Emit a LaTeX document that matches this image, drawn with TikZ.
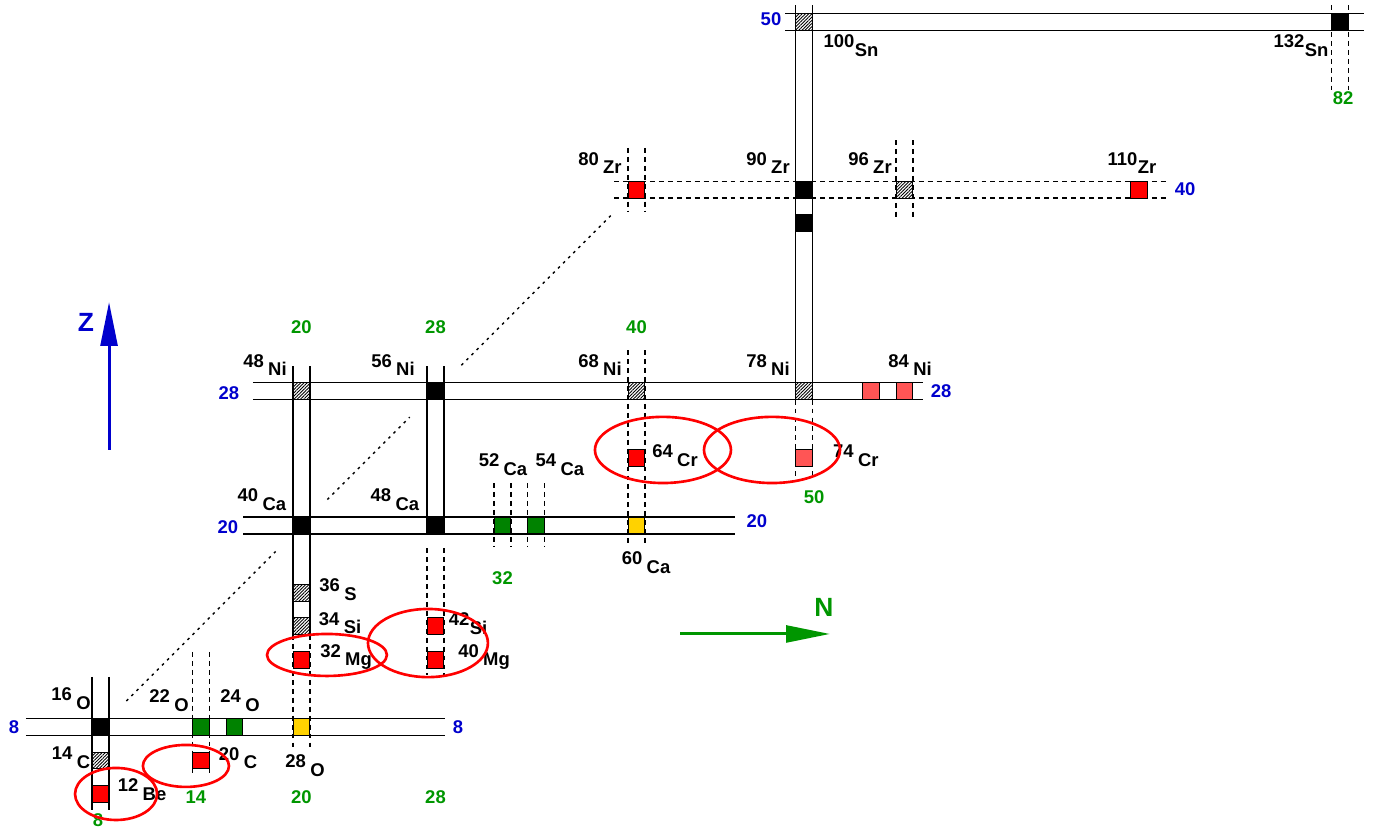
\documentclass[tikz,border=0pt]{standalone}
\usepackage{fontspec}
\setmainfont{Liberation Sans}
\usepackage{tikz}
\usetikzlibrary{arrows.meta, patterns.meta}

\definecolor{zblue}{RGB}{0,0,205}
\definecolor{ngreen}{RGB}{0,150,0}
\definecolor{boxgreen}{RGB}{0,130,0}
\definecolor{boxgold}{RGB}{255,210,0}
\definecolor{palered}{RGB}{255,85,85}

\newcommand{\iso}[2]{#1\hspace{2.5pt}\raisebox{-5pt}{#2}}
\newcommand{\isot}[2]{#1\hspace{0.3pt}\raisebox{-5pt}{#2}}

\begin{document}
\begin{tikzpicture}[
	x=0.335cm, y=0.3358cm,
	font=\bfseries\fontsize{10.5}{12}\selectfont,
	nucl/.style={
		rectangle,
		draw=black,
		line width=0.6pt,
		minimum width=0.335cm,
		minimum height=0.3358cm,
		inner sep=0pt
	},
	dmagic/.style={nucl, fill=black},
	hatch/.style={
		nucl,
		preaction={fill=white},
		pattern={Lines[angle=45,distance=1.3pt,line width=0.5pt]}
	},
	redbox/.style={nucl, fill=red},
	paleredbox/.style={nucl, fill=palered},
	greenbox/.style={nucl, fill=boxgreen},
	goldbox/.style={nucl, fill=boxgold},
	lab/.style={inner sep=0pt},
	zmag/.style={inner sep=0pt, text=zblue},
	nmag/.style={inner sep=0pt, text=ngreen},
	chan/.style={line width=0.8pt},
	dchan/.style={chan, dash pattern=on 2.8pt off 2.3pt},
	diag/.style={
		line width=0.8pt,
		dash pattern=on 1.5pt off 2.6pt,
		shorten <=0.48cm,
		shorten >=0.48cm
	},
	shell/.style={draw=red, line width=1.5pt},
	axis/.style={
		line width=1.7pt,
		-{Triangle[length=25pt,width=9.6pt]}
	}
	]
	\useasboundingbox (2,1.93) rectangle (84.03,51.30);
	
	\foreach \z/\a/\b in {8/3.55/28.57, 20/16.51/45.88, 28/17.10/57.10, 50/48.87/83.43}
	\draw[chan] (\a,\z-0.5) -- (\b,\z-0.5) (\a,\z+0.5) -- (\b,\z+0.5);
	\draw[dchan] (38.66,39.5) -- (71.61,39.5) (38.66,40.5) -- (71.61,40.5);
	
	\foreach \n/\a/\b in {8/10.98/3.06, 20/29.5/13.48, 28/29.5/19.5, 50/51.0/27.5}
	\draw[chan] (\n-0.5,\a) -- (\n-0.5,\b) (\n+0.5,\a) -- (\n+0.5,\b);
	\foreach \n/\a/\b in {14/12.47/5.26, 20/13.48/6.63, 28/18.66/11.10, 32/22.53/18.72,
		34/22.53/18.72, 40/30.45/18.72, 40/42.49/38.67, 50/27.5/22.71, 56/42.96/38.20, 82/51.0/45.94}
	\draw[dchan] (\n-0.5,\a) -- (\n-0.5,\b) (\n+0.5,\a) -- (\n+0.5,\b);
	
	\node[dmagic] (o16) at (8,8) {};
	\node[hatch] (c14) at (8,6) {};
	\node[redbox] (be12) at (8,4) {};
	\node[greenbox] (o22) at (14,8) {};
	\node[greenbox] (o24) at (16,8) {};
	\node[goldbox] (o28) at (20,8) {};
	\node[redbox] (c20) at (14,6) {};
	\node[redbox] (mg32) at (20,12) {};
	\node[hatch] (si34) at (20,14) {};
	\node[hatch] (s36) at (20,16) {};
	\node[redbox] (si42) at (28,14) {};
	\node[redbox] (mg40) at (28,12) {};
	\node[dmagic] (ca40) at (20,20) {};
	\node[dmagic] (ca48) at (28,20) {};
	\node[greenbox] (ca52) at (32,20) {};
	\node[greenbox] (ca54) at (34,20) {};
	\node[goldbox] (ca60) at (40,20) {};
	\node[redbox] (cr64) at (40,24) {};
	\node[paleredbox] (cr74) at (50,24) {};
	\node[hatch] (ni48) at (20,28) {};
	\node[dmagic] (ni56) at (28,28) {};
	\node[hatch] (ni68) at (40,28) {};
	\node[hatch] (ni78) at (50,28) {};
	\node[paleredbox] (ni82) at (54,28) {};
	\node[paleredbox] (ni84) at (56,28) {};
	\node[redbox] (zr80) at (40,40) {};
	\node[dmagic] (zr90) at (50,40) {};
	\node[dmagic] (sr88) at (50,38) {};
	\node[hatch] (zr96) at (56,40) {};
	\node[redbox] (zr110) at (70,40) {};
	\node[hatch] (sn100) at (50,50) {};
	\node[dmagic] (sn132) at (82,50) {};
	
	\draw[diag] (o16) -- (ca40);
	\draw[diag] (ca40) -- (ni56);
	\draw[diag] (ni56) -- (zr80);
	
	\node[lab] (lo16) at (6.24,9.67) {\iso{16}{O}};
	\node[lab] (lc14) at (6.24,6.15) {\iso{14}{C}};
	\node[lab] (lbe12) at (10.48,4.25) {\iso{12}{Be}};
	\node[lab] (lo22) at (12.09,9.55) {\iso{22}{O}};
	\node[lab] (lo24) at (16.33,9.55) {\iso{24}{O}};
	\node[lab] (lc20) at (16.21,6.15) {\iso{20}{C}};
	\node[lab] (lo28) at (20.21,5.68) {\iso{28}{O}};
	\node[lab] (lmg32) at (22.66,12.17) {\iso{32}{Mg}};
	\node[lab] (lsi34) at (22.30,14.19) {\iso{34}{Si}};
	\node[lab] (ls36) at (22.18,16.16) {\iso{36}{S}};
	\node[lab] (lsi42) at (29.94,14.14) {\isot{42}{Si}};
	\node[lab] (lmg40) at (30.90,12.17) {\iso{40}{Mg}};
	\node[lab] (lca40) at (17.64,21.52) {\iso{40}{Ca}};
	\node[lab] (lca48) at (25.58,21.52) {\iso{48}{Ca}};
	\node[lab] (lca52) at (32.03,23.61) {\iso{52}{Ca}};
	\node[lab] (lca54) at (35.43,23.61) {\iso{54}{Ca}};
	\node[lab] (lca60) at (40.57,17.77) {\iso{60}{Ca}};
	\node[lab] (lcr64) at (42.30,24.14) {\iso{64}{Cr}};
	\node[lab] (lcr74) at (53.10,24.14) {\iso{74}{Cr}};
	\node[lab] (lni48) at (17.82,29.56) {\iso{48}{Ni}};
	\node[lab] (lni56) at (25.46,29.56) {\iso{56}{Ni}};
	\node[lab] (lni68) at (37.82,29.56) {\iso{68}{Ni}};
	\node[lab] (lni78) at (47.85,29.56) {\iso{78}{Ni}};
	\node[lab] (lni84) at (56.33,29.56) {\iso{84}{Ni}};
	\node[lab] (lzr80) at (37.82,41.59) {\iso{80}{Zr}};
	\node[lab] (lzr90) at (47.85,41.59) {\iso{90}{Zr}};
	\node[lab] (lzr96) at (53.94,41.59) {\iso{96}{Zr}};
	\node[lab] (lzr110) at (69.58,41.59) {\isot{110}{Zr}};
	\node[lab] (lsn100) at (52.81,48.56) {\isot{100}{Sn}};
	\node[lab] (lsn132) at (79.67,48.56) {\isot{132}{Sn}};
	
	\node[zmag] (zl8) at (2.84,8) {8};
	\node[zmag] (zr8) at (29.34,8) {8};
	\node[zmag] (zl20) at (15.61,19.91) {20};
	\node[zmag] (zr20) at (47.19,20.27) {20};
	\node[zmag] (zl28) at (15.67,27.89) {28};
	\node[zmag] (zr28) at (58.18,28) {28};
	\node[zmag] (zl50) at (48.03,50.17) {50};
	\node[zmag] (zr40) at (72.75,40.04) {40};
	\node[nmag] (nb8) at (7.85,2.48) {8};
	\node[nmag] (nb14) at (13.70,3.83) {14};
	\node[nmag] (nb20) at (20,3.83) {20};
	\node[nmag] (nb28) at (28,3.83) {28};
	\node[nmag] (nt20) at (20,31.82) {20};
	\node[nmag] (nt28) at (28,31.82) {28};
	\node[nmag] (nt40) at (40,31.82) {40};
	\node[nmag] (nm32) at (32,16.87) {32};
	\node[nmag] (nm50) at (50.60,21.70) {50};
	\node[nmag] (nt82) at (82.18,45.46) {82};
	
	\draw[shell] (8.93,4.01) ellipse [x radius=2.45, y radius=1.55];
	\draw[shell] (13.10,5.68) ellipse [x radius=2.57, y radius=1.25];
	\draw[shell] (21.52,12.29) ellipse [x radius=3.58, y radius=1.25];
	\draw[shell] (27.55,13.00) ellipse [x radius=3.58, y radius=2.03];
	\draw[shell] (41.58,24.50) ellipse [x radius=4.06, y radius=1.97];
	\draw[shell] (48.09,24.50) ellipse [x radius=4.06, y radius=1.97];
	
	\coordinate (zfoot) at (8.51,24.50);
	\coordinate (ztip) at (8.51,33.31);
	\draw[axis, zblue] (zfoot) -- (ztip);
	\node[text=zblue, font=\bfseries\fontsize{15}{18}\selectfont] (zname) at (7.13,32.12) {Z};
	\coordinate (nfoot) at (42.60,13.54);
	\coordinate (ntip) at (51.55,13.54);
	\draw[axis, ngreen] (nfoot) -- (ntip);
	\node[text=ngreen, font=\bfseries\fontsize{15}{18}\selectfont] (nname) at (51.19,15.15) {N};
\end{tikzpicture}
\end{document}
